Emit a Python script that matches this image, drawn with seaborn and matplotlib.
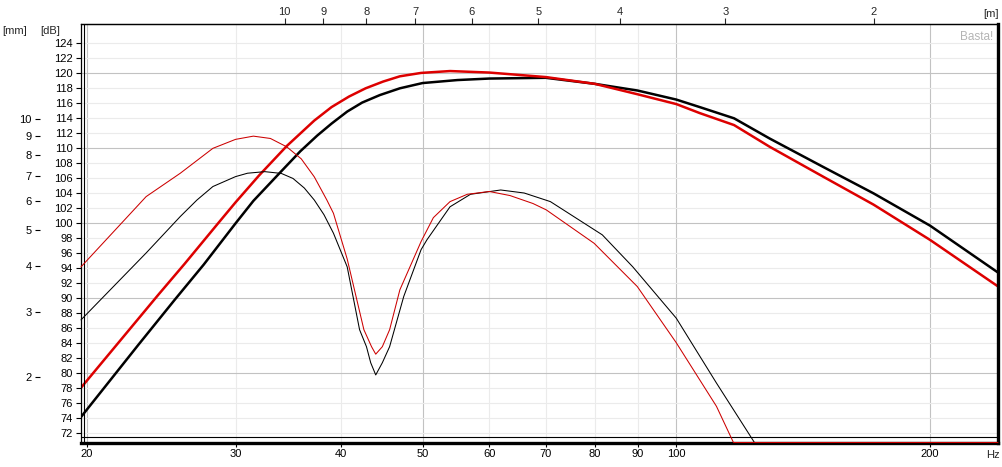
import numpy as np
import matplotlib
matplotlib.use("Agg")
import matplotlib.pyplot as plt
import matplotlib.ticker as mticker
import seaborn as sns

# SPL response (thick curves): frequency [Hz] -> level [dB]
splFreqBlack = [19.67, 23.0, 25.4, 27.5, 30.0, 31.5, 33.9, 35.8, 37.5, 39.0, 40.7, 42.4,
                44.5, 47.0, 50.0, 55.0, 60.0, 70.0, 80.0, 90.0, 100.0, 106.6, 117.1,
                129.1, 149.5, 171.4, 200.0, 240.8]
splBlack = [74.2, 83.8, 89.8, 94.5, 100.0, 103.0, 106.8, 109.6, 111.7, 113.3, 114.9, 116.1,
            117.1, 118.0, 118.7, 119.1, 119.3, 119.4, 118.6, 117.7, 116.5, 115.5, 114.0,
            111.3, 107.5, 104.0, 99.7, 93.45]

splFreqRed = [19.67, 24.3, 26.1, 28.6, 30.0, 32.0, 34.5, 37.2, 39.0, 40.9, 42.8, 44.9,
              47.0, 49.8, 53.9, 60.0, 70.0, 80.0, 90.0, 100.0, 106.6, 117.1, 129.1,
              149.5, 171.4, 200.0, 240.8]
splRed = [78.1, 90.5, 94.6, 100.0, 102.8, 106.4, 110.3, 113.7, 115.5, 116.9, 118.0, 118.9,
          119.6, 120.05, 120.3, 120.1, 119.5, 118.6, 117.2, 115.9, 114.7, 113.1, 110.2,
          106.2, 102.5, 97.8, 91.6]

# Cone excursion (thin curves): frequency [Hz] -> excursion [mm]
excFreqBlack = [19.67, 23.5, 25.8, 27.0, 28.2, 30.0, 31.0, 32.5, 34.0, 35.1, 36.2, 37.2,
                38.2, 39.2, 40.7, 42.1, 42.9, 43.4, 44.0, 44.8, 45.7, 46.3, 47.5, 49.8,
                50.6, 53.9, 57.0, 61.9, 66.0, 70.9, 81.7, 88.8, 100.0, 111.6, 123.8,
                150.0, 240.8]
excBlack = [2.85, 4.33, 5.44, 6.03, 6.56, 6.98, 7.13, 7.2, 7.12, 6.9, 6.5, 6.03,
            5.5, 4.9, 3.97, 2.68, 2.41, 2.18, 2.02, 2.18, 2.41, 2.68, 3.3, 4.42,
            4.70, 5.78, 6.25, 6.42, 6.3, 5.97, 4.85, 3.97, 2.88, 1.92, 1.32,
            1.0, 1.0]

excFreqRed = [19.67, 23.5, 25.8, 28.2, 30.0, 31.5, 33.0, 34.5, 35.9, 37.2, 38.5, 39.2,
              40.7, 42.6, 43.5, 44.0, 44.8, 45.7, 47.0, 49.8, 51.5, 53.9, 56.5, 60.0,
              63.5, 67.6, 70.1, 79.9, 89.9, 100.0, 111.6, 116.9, 150.0, 240.8]
excRed = [3.97, 6.16, 7.13, 8.33, 8.81, 8.99, 8.86, 8.41, 7.8, 6.97, 6.03, 5.55,
          4.17, 2.68, 2.41, 2.30, 2.41, 2.68, 3.44, 4.65, 5.4, 5.97, 6.25, 6.36,
          6.2, 5.9, 5.67, 4.6, 3.51, 2.47, 1.66, 1.32, 1.0, 1.0]

# Axis ticks
freqTicks = [20, 30, 40, 50, 60, 70, 80, 90, 100, 200]
freqStrong = [20, 50, 100, 200]
dbTicks = list(range(72, 126, 2))
mmTicks = [2, 3, 4, 5, 6, 7, 8, 9, 10]
meterTicks = [2, 3, 4, 5, 6, 7, 8, 9, 10]

# Axis ranges
freqMin, freqMax = 19.67, 240.8
dbMin, dbMax = 70.8, 126.53
mmMin, mmMax = 1.324, 18.09
soundSpeed = 343.0

sns.set_theme(style="ticks")
plt.rcParams['font.family'] = ['Liberation Sans', 'DejaVu Sans']

fig = plt.figure(figsize=(10.03, 4.67), dpi=100)
W, H = 1003.0, 467.0
ax = fig.add_axes([81 / W, (H - 442.5) / H, 917 / W, (442.5 - 24.3) / H])

lightGrid = '#ebebeb'
darkGrid = '#c2c2c2'

# Grid lines (two shades like the original)
for f in freqTicks:
    ax.axvline(f, color=darkGrid if f in freqStrong else lightGrid, lw=0.8, zorder=0)
for d in dbTicks:
    ax.axhline(d, color=darkGrid if d % 10 == 0 else lightGrid, lw=0.8, zorder=0)

# SPL curves
sns.lineplot(x=splFreqBlack, y=splBlack, ax=ax, color='black', lw=1.8, sort=False)
sns.lineplot(x=splFreqRed, y=splRed, ax=ax, color='#dd0000', lw=1.8, sort=False)

ax.set_xscale('log')
ax.set_xlim(freqMin, freqMax)
ax.set_ylim(dbMin, dbMax)
ax.set_xticks(freqTicks)
ax.xaxis.set_minor_locator(mticker.NullLocator())
ax.xaxis.set_major_formatter(mticker.FuncFormatter(lambda v, p: f"{v:g}"))
ax.set_yticks(dbTicks)
ax.set_xlabel('')
ax.set_ylabel('')
ax.tick_params(axis='x', which='major', direction='out', length=3, width=0.8, pad=2,
               labelsize=8, colors='black', bottom=True)
ax.tick_params(axis='y', which='major', direction='out', length=3.6, width=0.8, pad=2.5,
               labelsize=8, colors='black', left=True)

# Frame: thin top/left, heavy bottom/right
ax.spines['top'].set_linewidth(0.9)
ax.spines['left'].set_linewidth(0.9)
ax.spines['bottom'].set_linewidth(2.4)
ax.spines['right'].set_linewidth(2.4)
for s in ax.spines.values():
    s.set_color('black')
ax.plot([3 / 917, 3 / 917], [0, 1], transform=ax.transAxes, color='black', lw=0.8, clip_on=False)
ax.plot([0, 1], [5.5 / 418.2, 5.5 / 418.2], transform=ax.transAxes, color='black', lw=0.8, clip_on=False)

# Excursion on its own log axis, drawn to the far left
ax2 = ax.twinx()
sns.lineplot(x=excFreqBlack, y=np.clip(excBlack, mmMin, None), ax=ax2, color='black',
             lw=0.75, sort=False, clip_on=False)
sns.lineplot(x=excFreqRed, y=np.clip(excRed, mmMin, None), ax=ax2, color='#cc0000',
             lw=0.75, sort=False, clip_on=False)
ax2.set_yscale('log')
ax2.set_ylim(mmMin, mmMax)
ax2.set_xlim(freqMin, freqMax)
ax2.set_yticks(mmTicks)
ax2.yaxis.set_minor_locator(mticker.NullLocator())
ax2.yaxis.set_major_formatter(mticker.FuncFormatter(lambda v, p: f"{v:g}"))
ax2.yaxis.set_ticks_position('left')
ax2.spines['left'].set_position(('axes', -41 / 917))
ax2.spines['left'].set_color('none')
for side in ['right', 'top', 'bottom']:
    ax2.spines[side].set_visible(False)
ax2.set_ylabel('')
ax2.tick_params(axis='y', which='major', direction='out', length=3.6, width=0.8, pad=2.5,
                labelsize=8, colors='black')

# Wavelength axis on top
def freqToMeters(f):
    f = np.array(f, dtype=float)
    f[np.isclose(f, 0)] = np.inf
    return soundSpeed / f

def metersToFreq(m):
    m = np.array(m, dtype=float)
    m[np.isclose(m, 0)] = np.inf
    return soundSpeed / m

secAx = ax.secondary_xaxis('top', functions=(freqToMeters, metersToFreq))
secAx.set_xticks(meterTicks)
secAx.xaxis.set_minor_locator(mticker.NullLocator())
secAx.xaxis.set_major_formatter(mticker.FuncFormatter(lambda v, p: f"{v:g}"))
secAx.tick_params(axis='x', direction='out', length=4.3, width=0.8, pad=1, labelsize=8)
secAx.spines['top'].set_linewidth(0.9)

# Unit labels
fig.text(2 / W, 1 - 31 / H, '[mm]', fontsize=8, va='center', ha='left')
fig.text(40 / W, 1 - 31 / H, '[dB]', fontsize=8, va='center', ha='left')
fig.text(999 / W, 1 - 14 / H, '[m]', fontsize=8, va='center', ha='right')
fig.text(1000 / W, 1 - 455 / H, 'Hz', fontsize=8, va='center', ha='right')
ax.text(0.995, 0.985, 'Basta!', transform=ax.transAxes, fontsize=8.5, color='#b4b4b4',
        ha='right', va='top')

fig.savefig('out.png', dpi=100)
